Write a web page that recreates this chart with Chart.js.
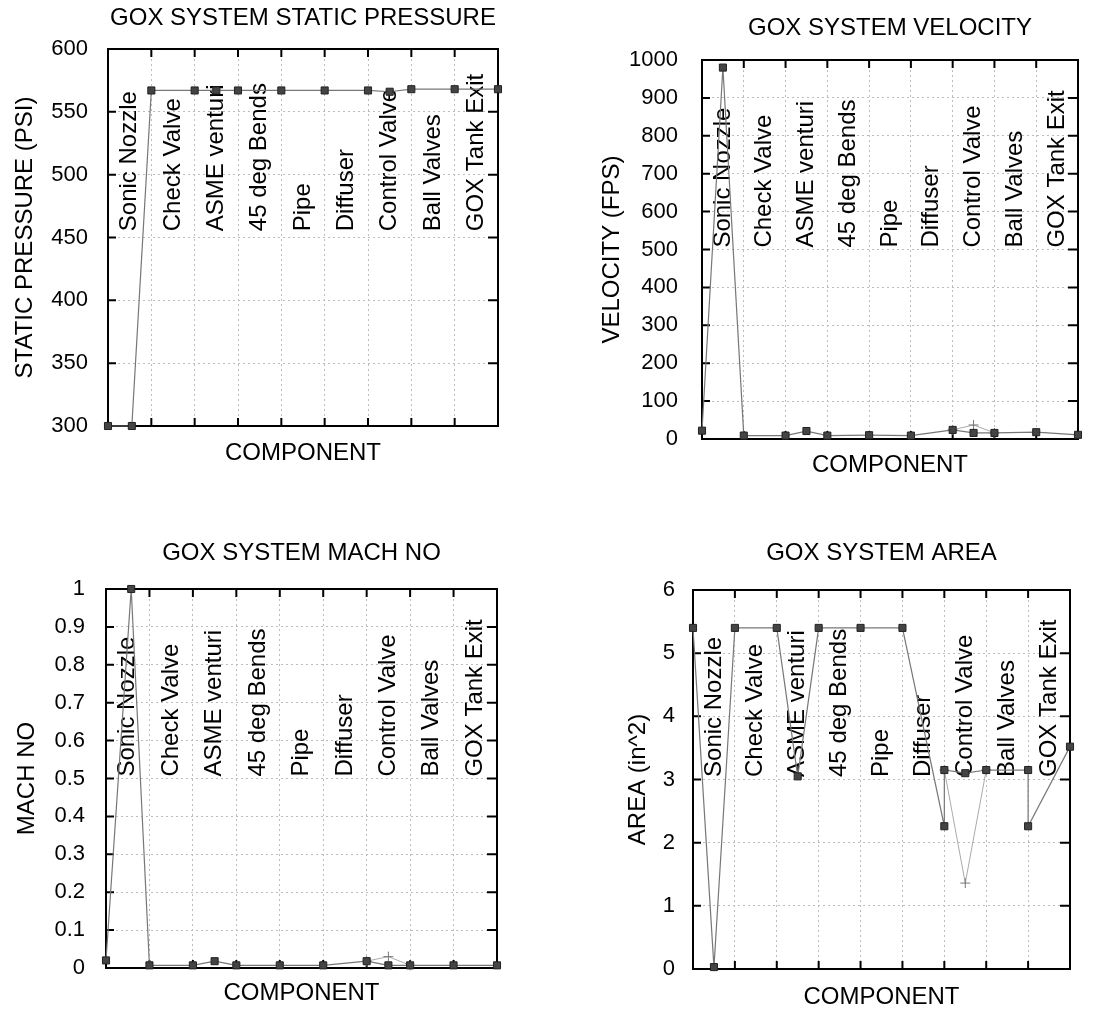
<!DOCTYPE html>
<html>
<head>
<meta charset="utf-8">
<script src="https://cdn.jsdelivr.net/npm/chart.js@4.4.0/dist/chart.umd.min.js"></script>
<style>
  body { margin: 0; background: #fff; }
  #wrap { position: relative; width: 1110px; height: 1014px; }
  canvas { position: absolute; }
</style>
</head>
<body>
<div id="wrap">
  <canvas id="pressure" width="555" height="490" style="left:0;top:0"></canvas>
  <canvas id="velocity" width="555" height="490" style="left:555px;top:0"></canvas>
  <canvas id="mach" width="555" height="524" style="left:0;top:490px"></canvas>
  <canvas id="area" width="555" height="524" style="left:555px;top:490px"></canvas>
</div>
<script>
const components = ['Sonic Nozzle', 'Check Valve', 'ASME venturi', '45 deg Bends', 'Pipe',
  'Diffuser', 'Control Valve', 'Ball Valves', 'GOX Tank Exit'];

// station positions along the component axis and the values
const pressureX = [0, 0.55, 1, 2, 2.5, 3, 4, 5, 6, 6.5, 7, 8, 9];
const pressureY = [300, 300, 567, 567, 567, 567, 567, 567, 567, 566, 568, 568, 568];

const velocityX = [0, 0.5, 1, 2, 2.5, 3, 4, 5, 6, 6.5, 7, 8, 9];
const velocityY = [22, 980, 9, 9, 21, 9, 10, 9, 24, 16, 16, 18, 11];

const machX = [0, 0.58, 1, 2, 2.5, 3, 4, 5, 6, 6.5, 7, 8, 9];
const machY = [0.02, 1.0, 0.007, 0.007, 0.018, 0.007, 0.007, 0.007, 0.018, 0.007, 0.007, 0.007, 0.007];

const areaX = [0, 0.5, 1, 2, 2.5, 3, 4, 5, 6, 6, 6.5, 7, 8, 8, 9];
const areaY = [5.4, 0.03, 5.4, 5.4, 3.05, 5.4, 5.4, 5.4, 2.26, 3.15, 3.1, 3.15, 3.15, 2.26, 3.52];

// second trace through the control valve (plus markers)
const valveX = [6, 6.5, 7];
const velocityValveY = [24, 37, 16];
const machValveY = [0.018, 0.03, 0.007];
const areaValveY = [3.15, 1.36, 3.15];

const FONT = "'Liberation Sans', Arial, sans-serif";

function toPoints(xs, ys) {
  return xs.map((x, i) => ({ x, y: ys[i] }));
}

function mainSeries(xs, ys) {
  return {
    data: toPoints(xs, ys),
    borderColor: '#777',
    borderWidth: 1.2,
    pointStyle: 'rect',
    pointRadius: 5,
    pointBackgroundColor: '#444',
    pointBorderColor: '#222',
    pointBorderWidth: 1,
    tension: 0,
    clip: false,
  };
}

function valveSeries(ys) {
  return {
    data: toPoints(valveX, ys),
    borderColor: '#aaa',
    borderWidth: 1,
    pointStyle: 'cross',
    pointRadius: 5,
    pointBorderColor: '#777',
    pointBorderWidth: 1,
    tension: 0,
    clip: false,
  };
}

const decorations = {
  id: 'decorations',
  beforeDatasetsDraw(chart, args, opts) {
    const { ctx, chartArea: a, scales: { x, y } } = chart;
    ctx.save();
    ctx.strokeStyle = '#000';
    ctx.lineWidth = 2;
    ctx.strokeRect(a.left, a.top, a.width, a.height);
    ctx.beginPath();
    x.ticks.forEach((t) => {
      const px = x.getPixelForValue(t.value);
      ctx.moveTo(px, a.bottom); ctx.lineTo(px, a.bottom - 8);
      ctx.moveTo(px, a.top); ctx.lineTo(px, a.top + 8);
    });
    y.ticks.forEach((t) => {
      const py = y.getPixelForValue(t.value);
      ctx.moveTo(a.left, py); ctx.lineTo(a.left + 8, py);
      ctx.moveTo(a.right, py); ctx.lineTo(a.right - 10, py);
    });
    ctx.stroke();

    const base = y.getPixelForValue(opts.base);
    ctx.font = '24px ' + FONT;
    ctx.fillStyle = '#000';
    ctx.textAlign = 'left';
    ctx.textBaseline = 'middle';
    components.forEach((name, i) => {
      ctx.save();
      ctx.translate(x.getPixelForValue(i + 0.5), base);
      ctx.rotate(-Math.PI / 2);
      ctx.fillText(name, 0, 0);
      ctx.restore();
    });
    ctx.restore();
  },
};

function makeChart(id, cfg) {
  const font = { family: FONT, size: 24, weight: 'normal' };
  const grid = { color: '#bdbdbd', lineWidth: 1, drawTicks: false };
  const border = { display: false, dash: [2, 3] };
  return new Chart(document.getElementById(id), {
    type: 'line',
    data: { datasets: cfg.datasets },
    options: {
      responsive: false,
      animation: false,
      layout: { padding: { right: cfg.padRight } },
      plugins: {
        legend: { display: false },
        tooltip: { enabled: false },
        title: {
          display: true,
          text: cfg.title,
          fullSize: false,
          color: '#000',
          font,
          padding: { top: cfg.titleTop, bottom: cfg.titleBottom },
        },
        decorations: { base: cfg.labelBase },
      },
      scales: {
        x: {
          type: 'linear',
          min: 0,
          max: 9,
          ticks: { display: false, stepSize: 1 },
          grid,
          border,
          title: { display: true, text: 'COMPONENT', color: '#000', font, padding: { top: 0, bottom: cfg.xTitlePad } },
          afterFit: (s) => { s.height = cfg.xHeight; },
        },
        y: {
          type: 'linear',
          min: cfg.yMin,
          max: cfg.yMax,
          ticks: {
            stepSize: cfg.yStep,
            color: '#000',
            padding: cfg.tickPad,
            font: { family: FONT, size: 22 },
            callback: (v) => String(+v.toFixed(2)),
          },
          grid,
          border,
          title: { display: true, text: cfg.yTitle, color: '#000', font, padding: { top: cfg.yTitlePad, bottom: 0 } },
          afterFit: (s) => { s.width = cfg.yWidth; },
        },
      },
    },
    plugins: [decorations],
  });
}

makeChart('pressure', {
  title: 'GOX SYSTEM STATIC PRESSURE',
  yTitle: 'STATIC PRESSURE (PSI)',
  datasets: [mainSeries(pressureX, pressureY)],
  yMin: 300, yMax: 600, yStep: 50,
  padRight: 57, titleTop: 3.6, titleBottom: 16.6,
  yWidth: 108, yTitlePad: 10.6, tickPad: 20,
  xHeight: 64, xTitlePad: 22.6,
  labelBase: 455,
});

makeChart('velocity', {
  title: 'GOX SYSTEM VELOCITY',
  yTitle: 'VELOCITY (FPS)',
  datasets: [mainSeries(velocityX, velocityY), valveSeries(velocityValveY)],
  yMin: 0, yMax: 1000, yStep: 100,
  padRight: 32, titleTop: 13.6, titleBottom: 17.6,
  yWidth: 147, yTitlePad: 42.6, tickPad: 24,
  xHeight: 51, xTitlePad: 10.6,
  labelBase: 505,
});

makeChart('mach', {
  title: 'GOX SYSTEM MACH NO',
  yTitle: 'MACH NO',
  datasets: [mainSeries(machX, machY), valveSeries(machValveY)],
  yMin: 0, yMax: 1, yStep: 0.1,
  padRight: 58, titleTop: 48.6, titleBottom: 21.6,
  yWidth: 106, yTitlePad: 12.6, tickPad: 21,
  xHeight: 46, xTitlePad: 6.6,
  labelBase: 0.505,
});

makeChart('area', {
  title: 'GOX SYSTEM AREA',
  yTitle: 'AREA (in^2)',
  datasets: [mainSeries(areaX, areaY), valveSeries(areaValveY)],
  yMin: 0, yMax: 6, yStep: 1,
  padRight: 40, titleTop: 48.6, titleBottom: 22.6,
  yWidth: 138, yTitlePad: 68.6, tickPad: 18,
  xHeight: 45, xTitlePad: 2.6,
  labelBase: 3.04,
});
</script>
</body>
</html>
